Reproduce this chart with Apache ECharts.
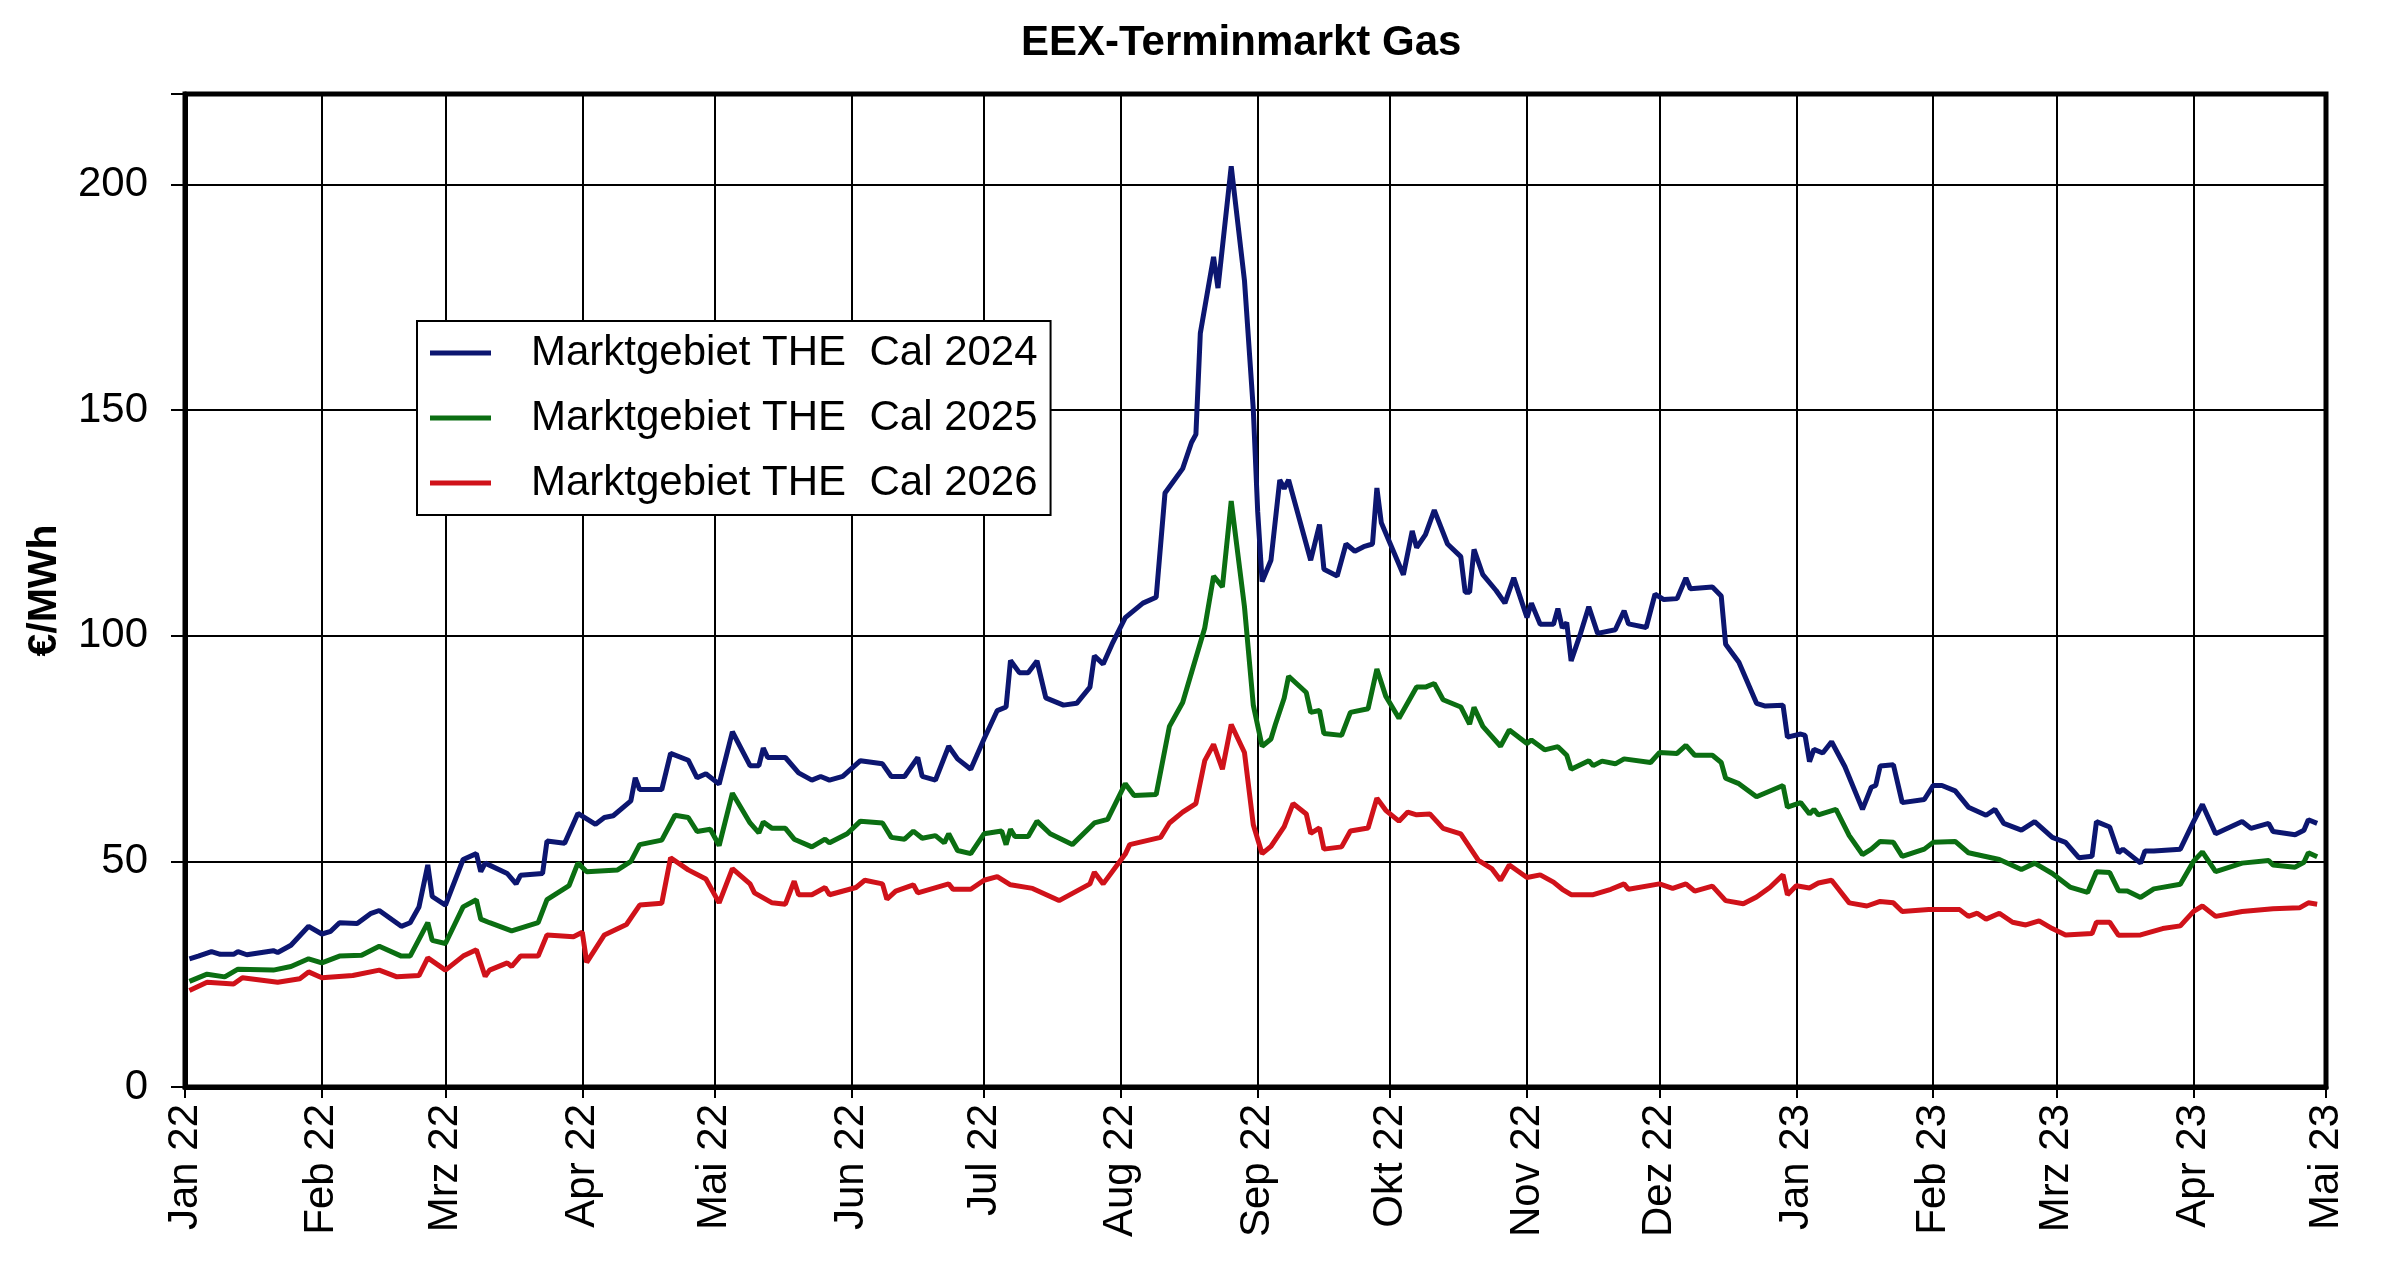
<!DOCTYPE html>
<html>
<head>
<meta charset="utf-8">
<script src="https://cdn.jsdelivr.net/npm/echarts@6/dist/echarts.min.js"></script>
<style>
html,body{margin:0;padding:0;background:#fff;}
#chart{width:2400px;height:1273px;}
</style>
</head>
<body>
<div id="chart"></div>
<script>
// Days counted from 2022-01-01 (day 0), values in €/MWh
const monthNames = ['Jan','Feb','Mrz','Apr','Mai','Jun','Jul','Aug','Sep','Okt','Nov','Dez'];
const seriesNames = ['Marktgebiet THE  Cal 2024','Marktgebiet THE  Cal 2025','Marktgebiet THE  Cal 2026'];
const yTicks = [0, 50, 100, 150, 200];

const cal2024 = [[1,28.4],[3,29.0],[6,30.0],[8,29.4],[11,29.4],[12,30.0],[14,29.3],[20,30.2],[21,29.8],[24,31.4],[28,35.6],[31,33.9],[33,34.5],[35,36.4],[39,36.2],[42,38.4],[44,39.1],[49,35.6],[51,36.4],[53,39.9],[55,49.2],[56,42.2],[59,40.3],[63,50.4],[66,51.7],[67,47.7],[68,49.6],[73,47.3],[75,45.0],[76,46.9],[81,47.3],[82,54.5],[86,54.0],[89,60.6],[93,58.2],[95,59.7],[97,60.1],[101,63.4],[102,68.5],[103,65.9],[108,65.9],[110,73.9],[114,72.4],[116,68.5],[118,69.4],[121,67.1],[124,78.7],[128,71.2],[130,71.2],[131,75.1],[132,73.0],[136,73.0],[139,69.6],[142,68.0],[144,68.8],[146,68.0],[149,68.8],[153,72.3],[158,71.6],[160,68.8],[163,68.8],[166,73.0],[167,68.8],[170,68.0],[173,75.5],[175,72.7],[178,70.4],[181,77.1],[184,83.4],[186,84.2],[187,94.5],[189,91.8],[191,91.8],[193,94.4],[195,86.2],[199,84.6],[202,85.0],[205,88.6],[206,95.5],[208,93.7],[210,98.1],[213,104.0],[217,107.2],[220,108.5],[222,131.6],[226,137.0],[228,142.8],[229,144.6],[230,167.0],[233,183.9],[234,177.0],[237,204.0],[240,178.7],[242,150.1],[243,127.4],[244,112.0],[246,116.7],[248,134.5],[249,132.6],[250,134.5],[255,116.7],[257,124.6],[258,114.7],[261,113.2],[263,120.3],[265,118.7],[267,119.7],[269,120.3],[270,132.7],[271,125.0],[276,113.5],[278,123.2],[279,119.5],[281,122.4],[283,127.8],[286,120.3],[289,117.5],[290,109.6],[291,109.6],[292,119.1],[294,113.5],[297,110.0],[299,107.2],[301,112.8],[304,104.0],[305,107.2],[307,102.5],[310,102.5],[311,106.0],[312,101.7],[313,102.9],[314,94.4],[316,100.1],[318,106.4],[320,100.5],[324,101.3],[326,105.5],[327,102.6],[331,101.8],[333,109.2],[335,108.0],[338,108.2],[340,112.8],[341,110.4],[346,110.8],[348,108.8],[349,98.1],[352,94.1],[356,85.0],[358,84.4],[362,84.6],[363,77.5],[366,78.2],[367,77.9],[368,72.1],[369,74.8],[371,74.0],[373,76.5],[376,71.0],[380,61.5],[382,66.4],[383,66.8],[384,71.1],[387,71.4],[389,63.0],[394,63.7],[396,66.8],[398,66.8],[401,65.6],[404,62.0],[408,60.2],[410,61.5],[412,58.4],[416,56.9],[419,58.8],[423,55.3],[426,54.2],[429,50.8],[432,51.1],[433,58.8],[436,57.6],[438,51.9],[439,52.7],[443,49.6],[444,52.3],[446,52.3],[452,52.7],[455,58.8],[457,62.6],[460,56.1],[466,58.8],[468,57.3],[472,58.4],[473,56.6],[478,55.9],[480,56.9],[481,59.2],[483,58.4]];

const cal2025 = [[1,23.4],[5,25.0],[9,24.4],[12,26.1],[20,25.9],[24,26.7],[28,28.4],[31,27.5],[35,29.0],[40,29.2],[44,31.2],[49,29.0],[51,29.0],[55,36.4],[56,32.5],[59,31.8],[63,39.9],[66,41.5],[67,37.2],[69,36.4],[74,34.6],[80,36.4],[82,41.5],[87,44.6],[89,49.6],[91,47.7],[98,48.1],[101,50.0],[103,53.7],[108,54.7],[111,60.2],[114,59.7],[116,56.6],[119,57.1],[121,53.5],[124,65.1],[128,58.5],[130,56.3],[131,58.7],[133,57.3],[136,57.3],[138,54.9],[142,53.2],[145,54.9],[146,54.1],[150,56.1],[153,58.9],[158,58.5],[160,55.3],[163,54.9],[165,56.7],[167,55.1],[170,55.7],[172,54.1],[173,56.1],[175,52.4],[178,51.7],[181,56.1],[185,56.7],[186,53.7],[187,57.1],[188,55.5],[191,55.5],[193,58.9],[196,56.1],[201,53.7],[206,58.5],[209,59.3],[213,67.2],[215,64.6],[220,64.8],[223,79.9],[226,85.2],[231,101.7],[233,113.2],[235,110.8],[237,129.8],[240,106.4],[242,84.6],[244,75.5],[246,77.1],[247,80.3],[249,86.2],[250,91.0],[254,87.4],[255,83.0],[257,83.4],[258,78.3],[262,77.9],[264,83.0],[268,83.8],[270,92.6],[272,86.6],[275,81.7],[279,88.6],[281,88.6],[283,89.4],[285,85.8],[289,84.2],[291,80.4],[292,84.1],[294,79.9],[298,75.5],[300,79.1],[304,76.1],[305,76.9],[308,74.7],[311,75.4],[313,73.5],[314,70.4],[318,72.3],[319,71.2],[321,72.2],[324,71.6],[326,72.7],[332,71.9],[334,74.1],[338,73.9],[340,75.7],[342,73.5],[346,73.5],[348,71.9],[349,68.4],[352,67.2],[356,64.3],[362,66.8],[363,62.0],[366,63.0],[368,60.5],[369,61.5],[370,60.3],[374,61.5],[377,55.7],[380,51.5],[382,52.7],[384,54.4],[387,54.2],[389,51.1],[394,52.7],[396,54.2],[401,54.4],[404,51.9],[411,50.4],[416,48.2],[419,49.6],[423,47.3],[427,44.3],[431,43.1],[433,47.7],[436,47.5],[438,43.5],[440,43.4],[443,42.0],[446,43.9],[452,44.9],[455,50.0],[457,52.1],[460,47.7],[466,49.6],[472,50.2],[473,49.2],[478,48.7],[480,49.8],[481,51.9],[483,51.0]];

const cal2026 = [[1,21.4],[5,23.2],[11,22.8],[13,24.2],[21,23.2],[26,24.0],[28,25.5],[31,24.2],[38,24.7],[44,25.9],[48,24.4],[53,24.7],[55,28.6],[59,25.9],[63,29.0],[66,30.4],[68,24.5],[69,25.9],[73,27.5],[74,26.7],[76,29.0],[80,29.0],[82,33.7],[88,33.3],[90,34.3],[91,27.6],[95,33.7],[100,36.0],[103,40.3],[108,40.7],[110,50.8],[114,48.1],[118,46.1],[121,40.8],[124,48.4],[128,45.0],[129,43.0],[133,40.8],[136,40.5],[138,45.6],[139,42.6],[142,42.6],[145,44.2],[146,42.6],[152,44.2],[154,45.8],[158,45.0],[159,41.6],[161,43.4],[165,44.8],[166,43.0],[173,45.0],[174,43.8],[178,43.8],[181,45.8],[184,46.6],[187,44.8],[192,44.0],[198,41.3],[205,45.0],[206,47.6],[208,45.0],[213,51.6],[214,53.7],[221,55.3],[223,58.5],[226,60.9],[229,62.8],[231,72.3],[233,75.9],[235,70.4],[237,80.3],[240,74.1],[242,58.1],[244,51.7],[246,53.3],[249,57.7],[251,62.8],[254,60.5],[255,56.2],[257,57.4],[258,52.7],[262,53.2],[264,56.7],[268,57.4],[270,64.0],[272,61.3],[275,58.9],[277,60.9],[279,60.3],[282,60.5],[285,57.3],[289,56.1],[293,50.2],[296,48.4],[298,45.8],[300,49.2],[304,46.4],[307,47.0],[310,45.4],[312,43.8],[314,42.6],[319,42.6],[323,43.8],[326,45.0],[327,43.8],[334,45.0],[337,44.0],[340,45.0],[342,43.4],[346,44.5],[349,41.3],[353,40.6],[356,42.1],[359,44.2],[362,47.0],[363,42.6],[365,44.6],[368,44.1],[370,45.2],[373,45.8],[377,40.8],[381,40.1],[384,41.1],[387,40.8],[389,38.9],[395,39.3],[402,39.3],[404,37.8],[406,38.5],[408,37.2],[411,38.5],[414,36.5],[417,35.9],[420,36.8],[423,35.1],[426,33.7],[432,34.0],[433,36.5],[436,36.5],[438,33.6],[443,33.7],[448,35.1],[452,35.7],[455,38.9],[457,40.1],[460,37.8],[466,38.9],[473,39.5],[479,39.7],[481,40.8],[483,40.5]];

const T0 = Date.UTC(2022, 0, 1);
const DAY = 86400000;
const toTime = arr => arr.map(p => [T0 + p[0] * DAY, p[1]]);

const colors = ['#0c1670', '#0b6e12', '#d0121a'];
const FONT = 'Liberation Sans, Arial, sans-serif';

const chart = echarts.init(document.getElementById('chart'));
chart.setOption({
  useUTC: true,
  animation: false,
  backgroundColor: '#fff',
  title: {
    text: 'EEX-Terminmarkt Gas',
    left: 1016, top: 17,
    textStyle: {fontFamily: FONT, fontSize: 42, fontWeight: 'bold', color: '#000'}
  },
  legend: {
    orient: 'vertical',
    left: 417, top: 321,
    backgroundColor: '#fff',
    borderColor: '#000', borderWidth: 2,
    padding: [11, 13, 11, 13],
    itemGap: 23,
    itemWidth: 61, itemHeight: 5,
    icon: 'rect',
    textStyle: {fontFamily: FONT, fontSize: 42, color: '#000', padding: [0, 0, 0, 35]},
    data: seriesNames
  },
  grid: {
    left: 185, right: 74, top: 94, bottom: 186,
    show: true, borderColor: '#000', borderWidth: 5, backgroundColor: '#fff',
    containLabel: false
  },
  xAxis: {
    type: 'time',
    min: Date.UTC(2022, 0, 1),
    max: Date.UTC(2023, 4, 1),
    splitNumber: 16,
    minInterval: 28 * DAY,
    maxInterval: 31 * DAY,
    axisLine: {show: true, lineStyle: {color: '#000', width: 5}},
    axisTick: {show: true, length: 11, lineStyle: {color: '#000', width: 2}},
    splitLine: {show: true, lineStyle: {color: '#000', width: 2}},
    axisLabel: {
      rotate: 90, margin: 17,
      fontFamily: FONT, fontSize: 42, color: '#000',
      showMinLabel: true, showMaxLabel: true,
      formatter: function (v) {
        const d = new Date(v);
        return monthNames[d.getUTCMonth()] + ' ' + String(d.getUTCFullYear()).slice(2);
      }
    }
  },
  yAxis: {
    type: 'value',
    min: yTicks[0], max: 220, interval: 50,
    name: '€/MWh',
    nameLocation: 'middle',
    nameRotate: 90,
    nameGap: 120,
    nameTextStyle: {fontFamily: FONT, fontSize: 41, fontWeight: 'bold', color: '#000'},
    axisLine: {show: true, lineStyle: {color: '#000', width: 5}},
    axisTick: {show: true, length: 14, lineStyle: {color: '#000', width: 2}},
    splitLine: {show: true, lineStyle: {color: '#000', width: 2}},
    axisLabel: {
      margin: 37, fontFamily: FONT, fontSize: 42, color: '#000',
      formatter: v => (yTicks.indexOf(v) >= 0 ? String(v) : '')
    }
  },
  series: [cal2024, cal2025, cal2026].map((d, i) => ({
    name: seriesNames[i],
    type: 'line',
    data: toTime(d),
    showSymbol: false,
    symbol: 'none',
    lineStyle: {color: colors[i], width: 5},
    itemStyle: {color: colors[i]},
    z: 3 - i
  }))
});
</script>
</body>
</html>
